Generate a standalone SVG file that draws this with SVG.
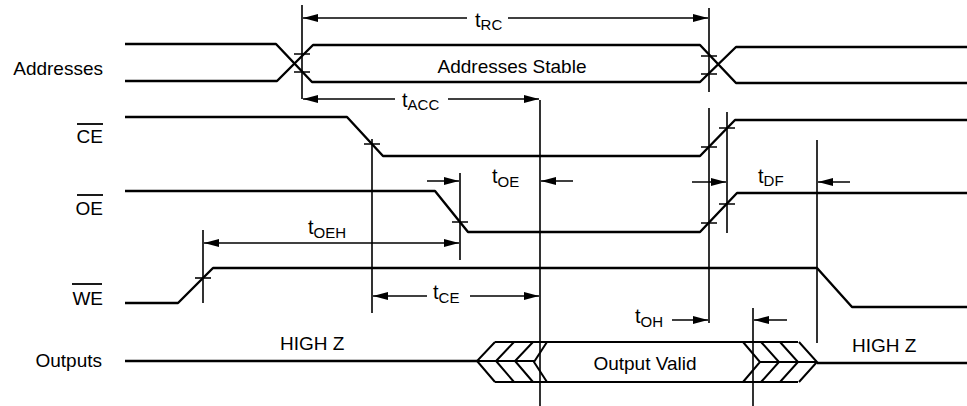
<svg xmlns="http://www.w3.org/2000/svg" width="967" height="406" viewBox="0 0 967 406">
<style>
text{font-family:"Liberation Sans",Arial,sans-serif;fill:#000}
.lbl{font-size:19px}
.par{font-size:20px}
.sub{font-size:15px}
.sig{fill:none;stroke:#000;stroke-width:2.4;stroke-linejoin:round}
.ref{fill:none;stroke:#000;stroke-width:1.6}
.tick{fill:none;stroke:#000;stroke-width:1.6}
.bar{stroke:#000;stroke-width:1.8}
.arr{fill:none;stroke:#000;stroke-width:1.5;marker-end:url(#ah)}
.chev{fill:none;stroke:#000;stroke-width:2;stroke-linejoin:miter}
</style>
<defs>
<marker id="ah" markerUnits="userSpaceOnUse" markerWidth="16" markerHeight="10" refX="15" refY="4" orient="auto-start-reverse">
<path d="M0,0 L15,4 L0,8 z" fill="#000"/>
</marker>
</defs>
<rect width="967" height="406" fill="#fff"/>

<g id="addresses">
<text class="lbl" x="103" y="75" text-anchor="end">Addresses</text>
<path class="sig" d="M125,44 H276 L312,82 H700 L736,47 H967"/>
<path class="sig" d="M125,81 H277 L313,45 H700 L736,83 H967"/>
<text class="lbl" x="512" y="73" text-anchor="middle">Addresses Stable</text>
<path class="tick" d="M294,54 H310 M294,72 H310 M701,56 H717 M701,74 H717"/>
</g>

<g id="ce">
<text class="lbl" x="103" y="143" text-anchor="end">CE</text>
<line class="bar" x1="77" y1="124" x2="103" y2="124"/>
<path class="sig" d="M125,117 H347 L383,156 H700 L735,120 H967"/>
<path class="tick" d="M364,144 H380 M701,147 H717 M719,128 H735"/>
</g>

<g id="oe">
<text class="lbl" x="103" y="215" text-anchor="end">OE</text>
<line class="bar" x1="77" y1="195" x2="103" y2="195"/>
<path class="sig" d="M125,191 H435 L468,232 H700 L737,193 H967"/>
<path class="tick" d="M452,222 H468 M701,223 H717 M719,204 H735"/>
</g>

<g id="we">
<text class="lbl" x="103" y="305" text-anchor="end">WE</text>
<line class="bar" x1="72" y1="284" x2="102" y2="284"/>
<path class="sig" d="M125,303 H178 L213,268 H817 L852,307 H967"/>
<path class="tick" d="M195,278 H211"/>
</g>

<g id="outputs">
<text class="lbl" x="102" y="367" text-anchor="end">Outputs</text>
<path class="sig" d="M125,361 H477"/>
<path class="sig" d="M817,363 H967"/>
<text class="lbl" x="280" y="350">HIGH Z</text>
<text class="lbl" x="852" y="352">HIGH Z</text>
<path class="chev" d="M495,342 H798 M495,382 H798"/>
<path class="chev" d="M495,342 L477,361 L495,382 M514,342 L496,361 L514,382 M533,342 L515,361 L533,382 M547,342 L534,362 L547,382 M477,361 H534"/>
<path class="chev" d="M743,342 L760,362 L743,382 M761,342 L779,362 L761,382 M780,342 L798,362 L780,382 M799,342 L817,362 L799,382 M760,362 H817"/>
<text class="lbl" x="645" y="370" text-anchor="middle">Output Valid</text>
</g>

<g id="connectors">
<path class="ref" d="M302,5 V99 M709,8 V92 M709,108 V323 M540,100 V406 M372,139 V313 M460,173 V260 M203,230 V303 M727,112 V233 M817,140 V343 M753,308 V406"/>
<line class="arr" x1="467" y1="18" x2="303" y2="18"/>
<line class="arr" x1="508" y1="18" x2="708" y2="18"/>
<line class="arr" x1="395" y1="99" x2="303" y2="99"/>
<line class="arr" x1="448" y1="99" x2="539" y2="99"/>
<line class="arr" x1="427" y1="181" x2="459" y2="181"/>
<line class="arr" x1="573" y1="181" x2="541" y2="181"/>
<line class="arr" x1="692" y1="182" x2="726" y2="182"/>
<line class="arr" x1="850" y1="182" x2="818" y2="182"/>
<line class="arr" x1="330" y1="243" x2="204" y2="243"/>
<line class="arr" x1="330" y1="243" x2="459" y2="243"/>
<line class="arr" x1="427" y1="296" x2="373" y2="296"/>
<line class="arr" x1="470" y1="296" x2="539" y2="296"/>
<line class="arr" x1="672" y1="320" x2="708" y2="320"/>
<line class="arr" x1="787" y1="320" x2="754" y2="320"/>
<text class="par" x="475" y="27">t<tspan class="sub" dy="3">RC</tspan></text>
<text class="par" x="402" y="107">t<tspan class="sub" dy="3">ACC</tspan></text>
<text class="par" x="492" y="183">t<tspan class="sub" dy="4">OE</tspan></text>
<text class="par" x="758" y="183">t<tspan class="sub" dy="3">DF</tspan></text>
<text class="par" x="308" y="234">t<tspan class="sub" dy="4">OEH</tspan></text>
<text class="par" x="433" y="299">t<tspan class="sub" dy="4">CE</tspan></text>
<text class="par" x="635" y="323">t<tspan class="sub" dy="4">OH</tspan></text>
</g>
</svg>
